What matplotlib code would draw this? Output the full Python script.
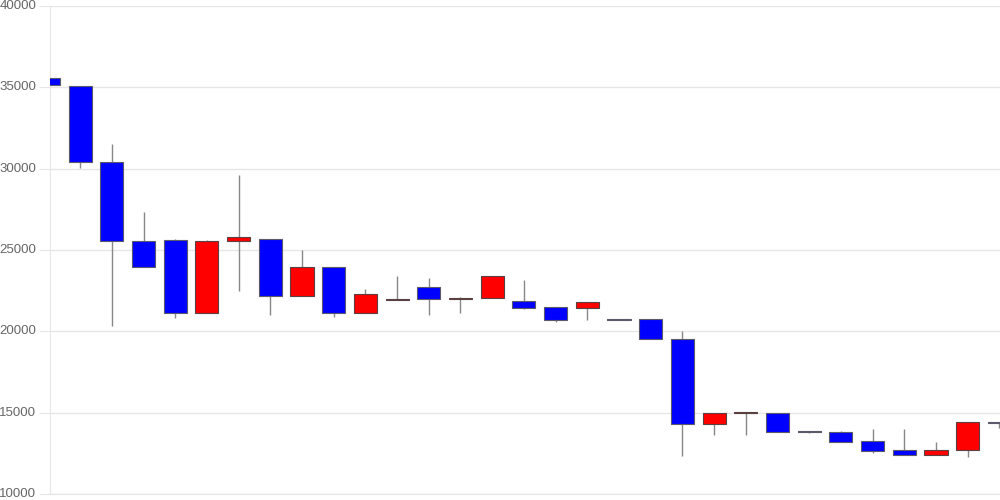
import numpy as np
import matplotlib.pyplot as plt

# Datos OHLC
opens = [35600, 35100, 30400, 25550, 25600, 21100, 25550, 25700, 22150, 23950,
         21150, 21900, 22750, 22000, 22050, 21850, 21500, 21450, 20750, 20750,
         19550, 14300, 15000, 15000, 13850, 13800, 13250, 12700, 12400, 12700, 14420]
highs = [36700, 35100, 31500, 27350, 25700, 25600, 29600, 25700, 25000, 23950,
         22600, 23400, 23300, 22100, 23400, 23150, 21500, 21800, 20750, 20750,
         20000, 15000, 15050, 15000, 13850, 13850, 14000, 14000, 13200, 14450, 14420]
lows = [35100, 30050, 20300, 23950, 20850, 21100, 22500, 21000, 22150, 20900,
        21100, 21900, 21000, 21100, 22050, 21400, 20600, 20700, 20700, 19500,
        12350, 13600, 13650, 13800, 13750, 13200, 12500, 12400, 12400, 12250, 14050]
closes = [35150, 30400, 25550, 23950, 21100, 25550, 25770, 22150, 23950, 21150,
          22300, 21960, 22000, 22060, 23400, 21450, 20700, 21800, 20720, 19500,
          14300, 15000, 15020, 13800, 13830, 13200, 12650, 12400, 12700, 14450, 14380]

x = np.arange(len(opens))
o = np.array(opens)
c = np.array(closes)
colors = np.where(c >= o, "#ff0000", "#0000ff")
edges = np.where(c >= o, "#5a4040", "#5a5a6a")

fig = plt.figure(figsize=(10, 5), dpi=100)
ax = fig.add_axes([0.05, 0.012, 0.95, 0.976])

# mechas
ax.vlines(x, lows, highs, color="#888888", linewidth=1, zorder=2)
# cuerpos
bottom = np.minimum(o, c)
height = np.maximum(np.abs(c - o), 20)
ax.bar(x, height, bottom=bottom, width=0.73, color=colors, edgecolor=edges,
       linewidth=0.8, zorder=3)

ax.set_ylim(10000, 40000)
ax.set_xlim(0.05, 30.02)
ax.set_yticks([10000, 15000, 20000, 25000, 30000, 35000, 40000])
ax.set_xticks([])
ax.grid(axis="y", color="#e6e6e6", linewidth=1)
ax.set_axisbelow(True)
for s in ["top", "right"]:
    ax.spines[s].set_visible(False)
ax.spines["left"].set_color("#e6e6e6")
ax.spines["bottom"].set_color("#e6e6e6")
ax.tick_params(axis="y", length=8, color="#e6e6e6", labelcolor="#666666",
               labelsize=9.5, pad=2)
for lbl in ax.get_yticklabels():
    lbl.set_fontfamily("Liberation Sans")
    lbl.set_verticalalignment("center")

fig.savefig("out.png", dpi=100)
